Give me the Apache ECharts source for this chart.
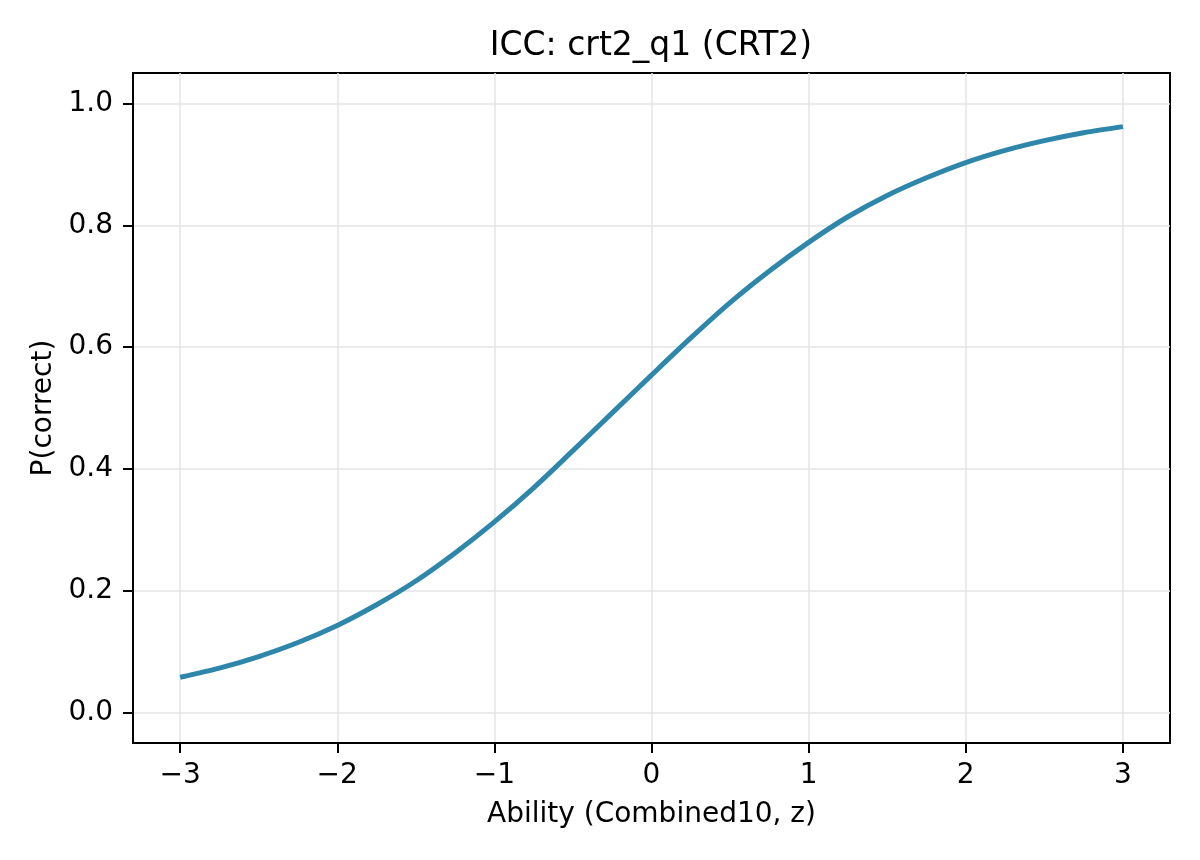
<!DOCTYPE html>
<html>
<head>
<meta charset="utf-8">
<style>
  html, body { margin: 0; padding: 0; background: #fff; }
  #main { width: 1200px; height: 860px; }
</style>
<script src="https://cdn.jsdelivr.net/npm/echarts@6/dist/echarts.min.js"></script>
</head>
<body>
<div id="main"></div>
<script>
var ability = [-3, -2.75, -2.5, -2.25, -2, -1.75, -1.5, -1.25, -1, -0.75, -0.5, -0.25,
  0, 0.25, 0.5, 0.75, 1, 1.25, 1.5, 1.75, 2, 2.25, 2.5, 2.75, 3];
var pCorrect = [0.058, 0.073, 0.092, 0.115, 0.143, 0.177, 0.216, 0.262, 0.313, 0.369, 0.430, 0.492,
  0.554, 0.615, 0.673, 0.725, 0.772, 0.814, 0.849, 0.878, 0.903, 0.923, 0.939, 0.952, 0.962];

var xTicks = [-3, -2, -1, 0, 1, 2, 3];
var yTicks = [0, 0.2, 0.4, 0.6, 0.8, 1.0];

var font = 'DejaVu Sans';

var chart = echarts.init(document.getElementById('main'));
chart.setOption({
  animation: false,
  backgroundColor: '#fff',
  title: {
    text: 'ICC: crt2_q1 (CRT2)',
    left: 651,
    textAlign: 'center',
    top: 30,
    padding: 0,
    textStyle: { fontFamily: font, fontSize: 33, fontWeight: 'normal', color: '#000' }
  },
  grid: {
    left: 133, right: 30, top: 73, bottom: 117,
    show: true, borderColor: '#000', borderWidth: 2
  },
  xAxis: {
    type: 'value',
    min: -3.3, max: 3.3,
    name: 'Ability (Combined10, z)',
    nameLocation: 'middle',
    nameGap: 58,
    nameTextStyle: { fontFamily: font, fontSize: 28, color: '#000' },
    axisLine: { show: true, onZero: false, lineStyle: { color: '#000', width: 2 } },
    axisTick: { show: true, customValues: xTicks, length: 10, lineStyle: { color: '#000', width: 2 } },
    axisLabel: {
      customValues: xTicks,
      margin: 19,
      fontFamily: font, fontSize: 28, color: '#000',
      formatter: function (v) { return v < 0 ? '\u2212' + Math.abs(v) : String(v); }
    },
    splitLine: { show: true, lineStyle: { color: '#e5e5e5', width: 1.5 } }
  },
  yAxis: {
    type: 'value',
    min: -0.05, max: 1.05,
    name: 'P(correct)',
    nameLocation: 'middle',
    nameGap: 74,
    nameTextStyle: { fontFamily: font, fontSize: 28, color: '#000' },
    axisLine: { show: true, onZero: false, lineStyle: { color: '#000', width: 2 } },
    axisTick: { show: true, customValues: yTicks, length: 10, lineStyle: { color: '#000', width: 2 } },
    axisLabel: {
      customValues: yTicks,
      margin: 20,
      fontFamily: font, fontSize: 28, color: '#000',
      formatter: function (v) { return v.toFixed(1); }
    },
    splitLine: { show: true, lineStyle: { color: '#e5e5e5', width: 1.5 } }
  },
  series: [{
    type: 'line',
    data: ability.map(function (a, i) { return [a, pCorrect[i]]; }),
    smooth: 0.3,
    showSymbol: false,
    lineStyle: { color: '#2E86AB', width: 5 },
    itemStyle: { color: '#2E86AB' }
  }]
});
</script>
</body>
</html>
